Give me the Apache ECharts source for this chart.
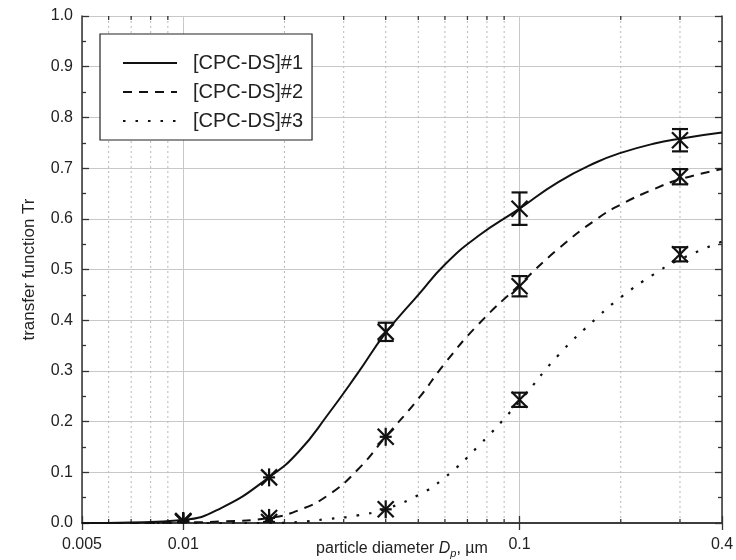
<!DOCTYPE html>
<html><head><meta charset="utf-8">
<script src="https://cdn.jsdelivr.net/npm/echarts@6/dist/echarts.min.js"></script>
<style>html,body{margin:0;padding:0;background:#fff}#c{width:736px;height:560px}</style>
</head><body><div id="c"></div>
<script>
// ---- data ----
const seriesNames = ['[CPC-DS]#1', '[CPC-DS]#2', '[CPC-DS]#3'];
const curveX = [0.005, 0.007, 0.01, 0.013, 0.018, 0.022, 0.027, 0.033, 0.04, 0.05, 0.06, 0.075, 0.1, 0.13, 0.17, 0.2, 0.25, 0.3, 0.4];
const curve1 = [0.0, 0.001, 0.006, 0.03, 0.09, 0.14, 0.215, 0.295, 0.375, 0.45, 0.51, 0.565, 0.62, 0.672, 0.712, 0.73, 0.748, 0.758, 0.77];
const curve2 = [0.0, 0.0, 0.001, 0.003, 0.01, 0.025, 0.055, 0.105, 0.17, 0.245, 0.315, 0.39, 0.47, 0.54, 0.6, 0.628, 0.658, 0.678, 0.698];
const curve3 = [0.0, 0.0, 0.0, 0.0, 0.0, 0.002, 0.008, 0.015, 0.028, 0.055, 0.09, 0.15, 0.24, 0.33, 0.405, 0.445, 0.49, 0.52, 0.555];
const pointX = [0.01, 0.018, 0.04, 0.1, 0.3];
const point1 = [0.004, 0.09, 0.377, 0.62, 0.755];
const err1 = [0, 0, 0.018, 0.032, 0.022];
const point2 = [0.003, 0.01, 0.17, 0.467, 0.683];
const err2 = [0, 0, 0, 0.02, 0.015];
const point3 = [0.002, 0.002, 0.027, 0.243, 0.53];
const err3 = [0, 0, 0, 0.014, 0.014];
const xTickLabels = ['0.005', '0.01', '0.1', '0.4'];
const minorX = [0.006, 0.007, 0.008, 0.009, 0.02, 0.03, 0.04, 0.05, 0.06, 0.07, 0.08, 0.09, 0.2, 0.3];

const FONT = "'Liberation Sans', Arial, Helvetica, sans-serif";
const INK = '#111';
const AX = '#333';

function zip(xs, ys) { return xs.map((x, i) => [x, ys[i]]); }
function zip3(xs, ys, es) { return xs.map((x, i) => [x, ys[i], es[i]]); }

function renderMarker(params, api) {
  const x = api.value(0), y = api.value(1), e = api.value(2);
  const c = api.coord([x, y]);
  const s = 8;
  const ln = (x1, y1, x2, y2) => ({ type: 'line', shape: { x1, y1, x2, y2 }, style: { stroke: INK, lineWidth: 2.2 } });
  const ch = [ln(c[0] - s, c[1] - s, c[0] + s, c[1] + s), ln(c[0] - s, c[1] + s, c[0] + s, c[1] - s)];
  if (e > 0) {
    const top = api.coord([x, y + e])[1], bot = api.coord([x, y - e])[1];
    ch.push(ln(c[0], top, c[0], bot));
    ch.push(ln(c[0] - s, top, c[0] + s, top));
    ch.push(ln(c[0] - s, bot, c[0] + s, bot));
  } else {
    ch.push(ln(c[0], c[1] - s - 1, c[0], c[1] + s + 1));
    ch.push(ln(c[0] - s + 2, c[1], c[0] + s - 2, c[1]));
  }
  return { type: 'group', children: ch };
}

function renderMinor(params, api) {
  const v = api.value(0);
  const b = api.coord([v, 0]), t = api.coord([v, 1]);
  return {
    type: 'group', children: [
      { type: 'line', shape: { x1: b[0], y1: b[1], x2: t[0], y2: t[1] }, style: { stroke: '#b8b8b8', lineWidth: 1, lineDash: [2, 3] } },
      { type: 'line', shape: { x1: b[0], y1: b[1], x2: b[0], y2: b[1] - 4 }, style: { stroke: AX, lineWidth: 1.3 } },
      { type: 'line', shape: { x1: t[0], y1: t[1], x2: t[0], y2: t[1] + 4 }, style: { stroke: AX, lineWidth: 1.3 } }
    ]
  };
}

function fmtX(v) {
  let best = xTickLabels[0], d = Infinity;
  xTickLabels.forEach(s => { const dd = Math.abs(Math.log(parseFloat(s)) - Math.log(v)); if (dd < d) { d = dd; best = s; } });
  return d < 0.01 ? best : '';
}

const axisLineStyle = { show: true, lineStyle: { color: AX, width: 1.5 } };
const lineSeries = (i, data, type, w) => ({
  type: 'line', name: seriesNames[i], data: data, symbol: 'none', showSymbol: false, smooth: true,
  lineStyle: { color: INK, width: w, type: type }, itemStyle: { color: INK }, z: 3
});
const chart = echarts.init(document.getElementById('c'));
chart.setOption({
  animation: false,
  backgroundColor: '#fff',
  textStyle: { fontFamily: FONT },
  grid: { left: 82, right: 14, top: 16, bottom: 37, containLabel: false, outerBoundsMode: 'none' },
  legend: {
    left: 100, top: 34, orient: 'vertical',
    data: seriesNames,
    borderColor: '#222', borderWidth: 1.2, backgroundColor: '#fff',
    padding: [19, 9, 9, 22],
    itemWidth: 54, itemHeight: 20, itemGap: 9,
    itemStyle: { opacity: 0 },
    textStyle: { fontSize: 20, color: '#222', fontFamily: FONT, padding: [0, 0, 0, 11] },
    inactiveColor: '#111'
  },
  xAxis: [{
    type: 'log', logBase: 10, min: 0.005, max: 0.4, position: 'bottom',
    name: '{a|particle diameter }{i|D}{s|p}{a|, µm}',
    nameLocation: 'middle', nameGap: 16, nameMoveOverlap: false,
    nameTextStyle: {
      rich: {
        a: { fontSize: 16, color: '#222', fontFamily: FONT },
        i: { fontSize: 16, color: '#222', fontStyle: 'italic', fontFamily: FONT },
        s: { fontSize: 11, color: '#222', fontStyle: 'italic', fontFamily: FONT, padding: [9, 0, 0, 0] }
      }
    },
    axisLine: axisLineStyle,
    axisTick: { show: true, inside: true, length: 7, lineStyle: { color: AX, width: 1.3 } },
    axisLabel: { fontSize: 16, color: '#222', margin: 14, formatter: fmtX, showMinLabel: true, showMaxLabel: true, fontFamily: FONT },
    splitLine: { show: true, lineStyle: { color: '#c8c8c8', width: 1 } },
    minorTick: { show: false }, minorSplitLine: { show: false }
  }, {
    type: 'log', logBase: 10, min: 0.005, max: 0.4, position: 'top',
    axisLine: axisLineStyle,
    axisTick: { show: true, inside: true, length: 7, lineStyle: { color: AX, width: 1.3 } },
    axisLabel: { show: false }, splitLine: { show: false }
  }],
  yAxis: [{
    type: 'value', min: 0, max: 1, interval: 0.1, position: 'left',
    name: 'transfer function Tr', nameLocation: 'middle', nameGap: 44, nameMoveOverlap: false,
    nameTextStyle: { fontSize: 17, color: '#222', fontFamily: FONT },
    axisLine: axisLineStyle,
    axisTick: { show: true, inside: true, length: 7, lineStyle: { color: AX, width: 1.3 } },
    minorTick: { show: true, splitNumber: 2, length: 4, lineStyle: { color: AX, width: 1.3 } },
    axisLabel: { fontSize: 16, color: '#222', margin: 9, formatter: v => v.toFixed(1), fontFamily: FONT },
    splitLine: { show: true, lineStyle: { color: '#c8c8c8', width: 1 } }
  }, {
    type: 'value', min: 0, max: 1, interval: 0.1, position: 'right',
    axisLine: axisLineStyle,
    axisTick: { show: true, inside: true, length: 7, lineStyle: { color: AX, width: 1.3 } },
    minorTick: { show: true, splitNumber: 2, length: 4, lineStyle: { color: AX, width: 1.3 } },
    axisLabel: { show: false }, splitLine: { show: false }
  }],
  series: [
    { type: 'custom', name: 'minor', renderItem: renderMinor, data: minorX.map(v => [v]), z: 1, silent: true, clip: false },
    lineSeries(0, zip(curveX, curve1), 'solid', 2),
    lineSeries(1, zip(curveX, curve2), [9, 7], 2),
    lineSeries(2, zip(curveX, curve3), [2.5, 10], 2.2),
    { type: 'custom', name: 'pts1', renderItem: renderMarker, data: zip3(pointX, point1, err1), z: 4, clip: true },
    { type: 'custom', name: 'pts2', renderItem: renderMarker, data: zip3(pointX, point2, err2), z: 4, clip: true },
    { type: 'custom', name: 'pts3', renderItem: renderMarker, data: zip3(pointX, point3, err3), z: 4, clip: true }
  ]
});
</script></body></html>
